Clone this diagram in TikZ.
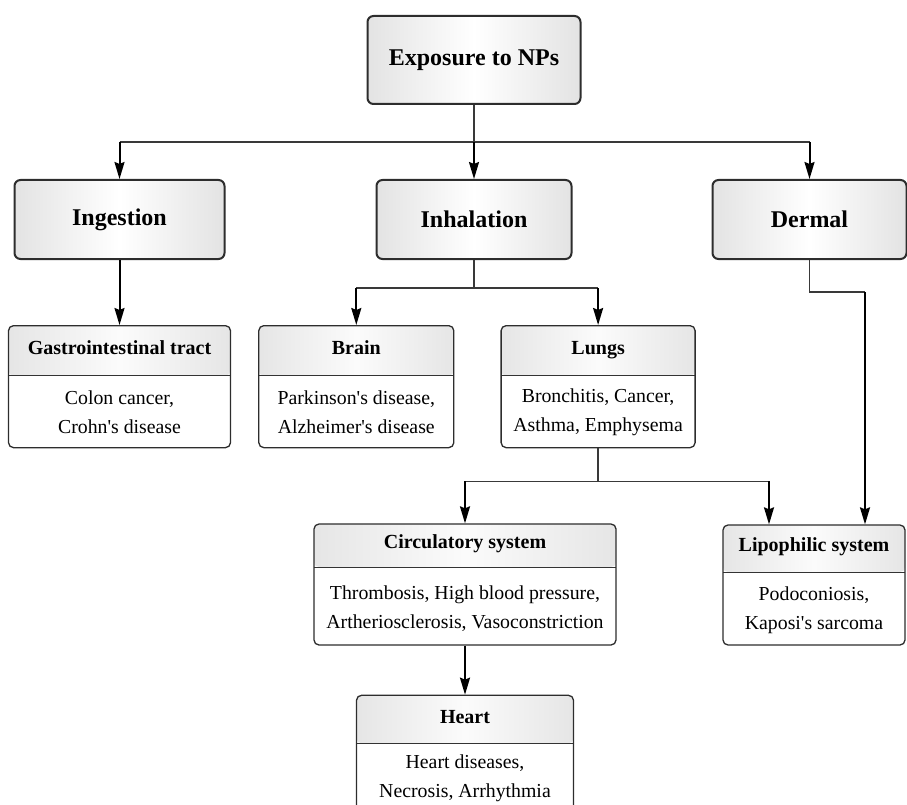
\documentclass[tikz,border=0pt]{standalone}
\usepackage{fontspec}
\setmainfont{Liberation Serif}
\usetikzlibrary{arrows.meta,positioning}

\begin{document}
\begin{tikzpicture}[x=1pt,y=1pt,
      route node/.style={draw=gray!35!black,line width=2pt,rounded corners=6pt,
        left color=gray!22,right color=gray!22,middle color=white,
        font=\fontsize{24}{28}\selectfont\bfseries},
      organ node/.style={draw=gray!35!black,line width=1.3pt,rounded corners=5pt,fill=white,
        path picture={
          \shade[left color=gray!20,right color=gray!20,middle color=gray!3]
            (path picture bounding box.north west) rectangle ([yshift=-#1]path picture bounding box.north east);
          \draw[gray!40!black,line width=1pt]
            ([yshift=-#1]path picture bounding box.north west) -- ([yshift=-#1]path picture bounding box.north east);}},
      organ node/.default=50,
      title/.style={font=\fontsize{20}{24}\selectfont\bfseries,text height=14pt,text depth=5pt},
      ills/.style={align=center,font=\fontsize{19.8}{29}\selectfont},
      link/.style={draw=gray!45!black,line width=1.3pt},
      feed/.style={-{Stealth[length=17pt,width=10pt,inset=2pt]},line width=2pt}]
      \useasboundingbox (0,0) rectangle (907,-805);

      % exposure routes
      \node[route node,minimum width=213,minimum height=88] (exp) at (474,-60) {Exposure to NPs};
      \node[route node,minimum width=195,minimum height=79] (inh) [below=74pt of exp] {Inhalation};
      \node[route node,minimum width=210,minimum height=79] (ing) [left=150pt of inh] {Ingestion};
      \node[route node,minimum width=194,minimum height=79] (der) [right=139pt of inh] {Dermal};

      % organs
      \node[organ node=50,minimum width=222,minimum height=122] (gi) [below=65pt of ing] {};
      \node[title] (gi-t) at ([yshift=-25]gi.north) {Gastrointestinal tract};
      \node[ills] (gi-b) at ([yshift=-87]gi.north) {Colon cancer,\\Crohn\textquotesingle s disease};

      \node[organ node=50,minimum width=195,minimum height=122] (brain) [right=27pt of gi] {};
      \node[title] (brain-t) at ([yshift=-25]brain.north) {Brain};
      \node[ills] (brain-b) at ([yshift=-87]brain.north) {Parkinson\textquotesingle s disease,\\Alzheimer\textquotesingle s disease};

      \node[organ node=50,minimum width=194,minimum height=122] (lungs) [right=46pt of brain] {};
      \node[title] (lungs-t) at ([yshift=-25]lungs.north) {Lungs};
      \node[ills] (lungs-b) at ([yshift=-87]lungs.north) {Bronchitis, Cancer,\\Asthma, Emphysema};

      \node[organ node=43,minimum width=302,minimum height=121] (circ) at (465,-584.5) {};
      \node[title] (circ-t) at ([yshift=-21]circ.north) {Circulatory system};
      \node[ills] (circ-b) at ([yshift=-85]circ.north) {Thrombosis, High blood pressure,\\Artheriosclerosis, Vasoconstriction};

      \node[organ node=47,minimum width=182,minimum height=120] (lip) at (814,-585) {};
      \node[title] (lip-t) at ([yshift=-23]lip.north) {Lipophilic system};
      \node[ills] (lip-b) at ([yshift=-86]lip.north) {Podoconiosis,\\Kaposi\textquotesingle s sarcoma};

      \node[organ node=48,minimum width=217,minimum height=122] (heart) [below=49pt of circ] {};
      \node[title] (heart-t) at ([yshift=-24]heart.north) {Heart};
      \node[ills] (heart-b) at ([yshift=-84]heart.north) {Heart diseases,\\Necrosis, Arrhythmia};

      % connectors
      \coordinate (split) at ([yshift=-37]exp.south);
      \coordinate (inh-split) at ([yshift=-28]inh.south);
      \coordinate (lungs-split) at ([yshift=-33]lungs.south);
      \coordinate (der-split) at ([yshift=-32]der.south);
      \coordinate (lip-in) at ([xshift=-45]lip.north);
      \coordinate (lip-der) at ([xshift=51]lip.north);

      \draw[link] (exp) -- (split);
      \draw[link] (ing |- split) -- (der |- split);
      \draw[feed] (ing |- split) -- (ing);
      \draw[feed] (split) -- (inh);
      \draw[feed] (der |- split) -- (der);

      \draw[feed] (ing) -- (gi);

      \draw[link] (inh) -- (inh-split);
      \draw[link] (brain |- inh-split) -- (lungs |- inh-split);
      \draw[feed] (brain |- inh-split) -- (brain);
      \draw[feed] (lungs |- inh-split) -- (lungs);

      \draw[link] (lungs) -- (lungs-split);
      \draw[link] (circ |- lungs-split) -- (lip-in |- lungs-split);
      \draw[feed] (circ |- lungs-split) -- (circ);
      \draw[feed] (lip-in |- lungs-split) -- (lip-in);

      \draw[link] (der) -- (der-split) -- (lip-der |- der-split);
      \draw[feed] (lip-der |- der-split) -- (lip-der);

      \draw[feed] (circ) -- (heart);
\end{tikzpicture}
\end{document}
